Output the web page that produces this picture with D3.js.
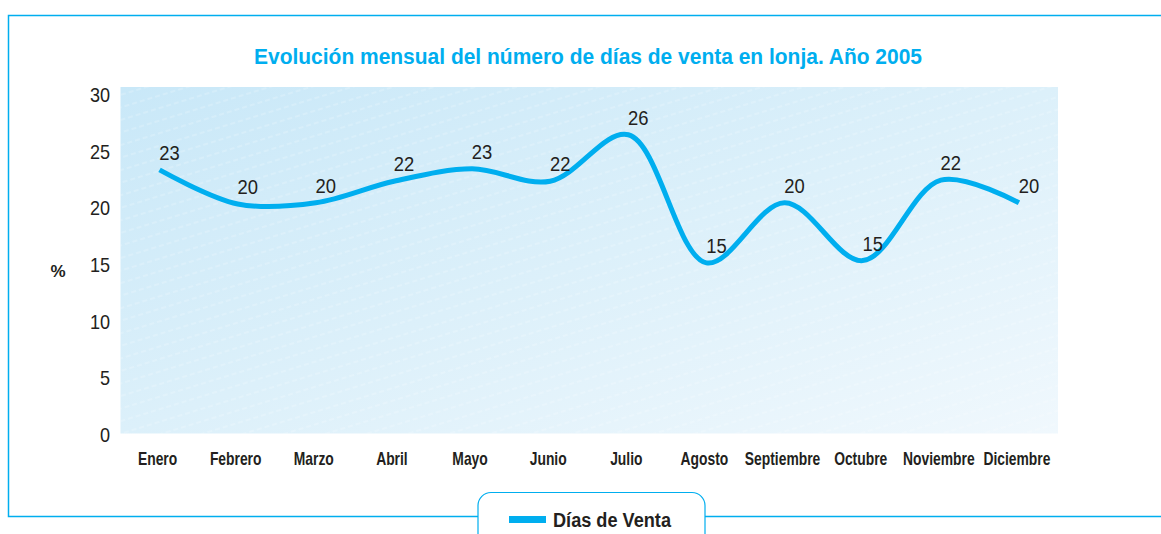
<!DOCTYPE html>
<html>
<head>
<meta charset="utf-8">
<script src="https://cdn.jsdelivr.net/npm/d3@7"></script>
<style>
  html, body { margin: 0; padding: 0; background: #fff; }
  svg { display: block; }
</style>
</head>
<body>
<svg id="chart" width="1161" height="534"></svg>
<script>
const months = ["Enero", "Febrero", "Marzo", "Abril", "Mayo", "Junio", "Julio", "Agosto", "Septiembre", "Octubre", "Noviembre", "Diciembre"];
const diasVenta = [23.3, 20.3, 20.4, 22.3, 23.4, 22.3, 26.4, 15.1, 20.4, 15.3, 22.4, 20.4];
const yTicks = [0, 5, 10, 15, 20, 25, 30];
const titleText = "Evolución mensual del número de días de venta en lonja. Año 2005";
const yAxisLabel = "%";
const seriesName = "Días de Venta";

const BLUE = "#00aeef";
const TEXT = "#231f20";
const FONT = "'Liberation Sans', Arial, sans-serif";

// condense text horizontally (the original uses a condensed typeface)
function condense(sel, factor) {
  sel.each(function () {
    const len = this.getComputedTextLength();
    d3.select(this).attr("textLength", len * factor).attr("lengthAdjust", "spacingAndGlyphs");
  });
}

const svg = d3.select("#chart");
const W = 1161, H = 534;
const plot = { left: 120.5, right: 1058, top: 87, bottom: 433.5 };

const x = d3.scaleBand().domain(months).range([plot.left, plot.right]);
const y = d3.scaleLinear().domain([0, 30]).range([434, 94]);

const defs = svg.append("defs");
const grad = defs.append("linearGradient").attr("id", "bg")
  .attr("x1", "0%").attr("y1", "0%").attr("x2", "100%").attr("y2", "100%");
grad.append("stop").attr("offset", "0%").attr("stop-color", "#c9e8f8");
grad.append("stop").attr("offset", "50%").attr("stop-color", "#dcf0fa");
grad.append("stop").attr("offset", "100%").attr("stop-color", "#f0f8fd");

const pat = defs.append("pattern").attr("id", "stripes")
  .attr("patternUnits", "userSpaceOnUse").attr("width", 40).attr("height", 12)
  .attr("patternTransform", "rotate(-17)");
pat.append("line").attr("x1", 0).attr("y1", 6).attr("x2", 40).attr("y2", 6)
  .attr("stroke", "#ffffff").attr("stroke-opacity", 0.45).attr("stroke-width", 0.8)
  .attr("stroke-dasharray", "5 3");

// Frame
svg.append("path")
  .attr("d", `M${W},15.5 H8.5 V516.5 H478 M705,516.5 H${W}`)
  .attr("fill", "none").attr("stroke", BLUE).attr("stroke-width", 1.5);

// Plot background
svg.append("rect").attr("x", plot.left).attr("y", plot.top)
  .attr("width", plot.right - plot.left).attr("height", plot.bottom - plot.top)
  .attr("fill", "url(#bg)");
svg.append("rect").attr("x", plot.left).attr("y", plot.top)
  .attr("width", plot.right - plot.left).attr("height", plot.bottom - plot.top)
  .attr("fill", "url(#stripes)");

// Title
svg.append("text").attr("x", 588).attr("y", 64).attr("text-anchor", "middle")
  .attr("font-family", FONT).attr("font-weight", "bold").attr("font-size", 22)
  .attr("fill", BLUE).attr("textLength", 668).attr("lengthAdjust", "spacingAndGlyphs")
  .text(titleText);

// Y axis
const yAxis = d3.axisLeft(y).tickValues(yTicks).tickSize(0).tickPadding(0);
const yg = svg.append("g").attr("transform", "translate(110,0)").call(yAxis);
yg.select(".domain").remove();
yg.selectAll("text").attr("font-family", FONT).attr("font-size", 21)
  .attr("fill", TEXT).attr("dy", "0.35em").call(condense, 0.86);

svg.append("text").attr("x", 58).attr("y", 277).attr("text-anchor", "middle")
  .attr("font-family", FONT).attr("font-weight", "bold").attr("font-size", 17)
  .attr("fill", TEXT).text(yAxisLabel);

// X axis
const xAxis = d3.axisBottom(x).tickSize(0).tickPadding(0);
const xg = svg.append("g").attr("transform", "translate(-2,450)").call(xAxis);
xg.select(".domain").remove();
xg.selectAll("text").attr("font-family", FONT).attr("font-weight", "bold")
  .attr("font-size", 18).attr("fill", TEXT).attr("dy", "0.85em")
  .attr("transform", "scale(0.77,1)");

// Line
const cx = d => x(d) + x.bandwidth() / 2;
const line = d3.line().x((d, i) => cx(months[i])).y(d => y(d)).curve(d3.curveCatmullRom.alpha(0.5));
svg.append("path").datum(diasVenta).attr("d", line)
  .attr("fill", "none").attr("stroke", BLUE).attr("stroke-width", 5)
  .attr("stroke-linecap", "butt").attr("stroke-linejoin", "round");

// Data labels
svg.append("g").selectAll("text").data(diasVenta).join("text")
  .attr("x", (d, i) => cx(months[i]) + 10)
  .attr("y", d => y(d) - 10)
  .attr("text-anchor", "middle")
  .attr("font-family", FONT).attr("font-size", 20).attr("fill", TEXT)
  .text(d => d3.format(".0f")(d)).call(condense, 0.92);

// Legend
const lg = svg.append("g");
lg.append("rect").attr("x", 478).attr("y", 492.5).attr("width", 227).attr("height", 60)
  .attr("rx", 13).attr("fill", "#fff").attr("stroke", BLUE).attr("stroke-width", 1.2);
lg.append("rect").attr("x", 509).attr("y", 516).attr("width", 37).attr("height", 7).attr("fill", BLUE);
lg.append("text").attr("x", 553).attr("y", 527).attr("font-family", FONT)
  .attr("font-weight", "bold").attr("font-size", 20).attr("fill", TEXT)
  .attr("textLength", 118).attr("lengthAdjust", "spacingAndGlyphs").text(seriesName);
</script>
</body>
</html>
